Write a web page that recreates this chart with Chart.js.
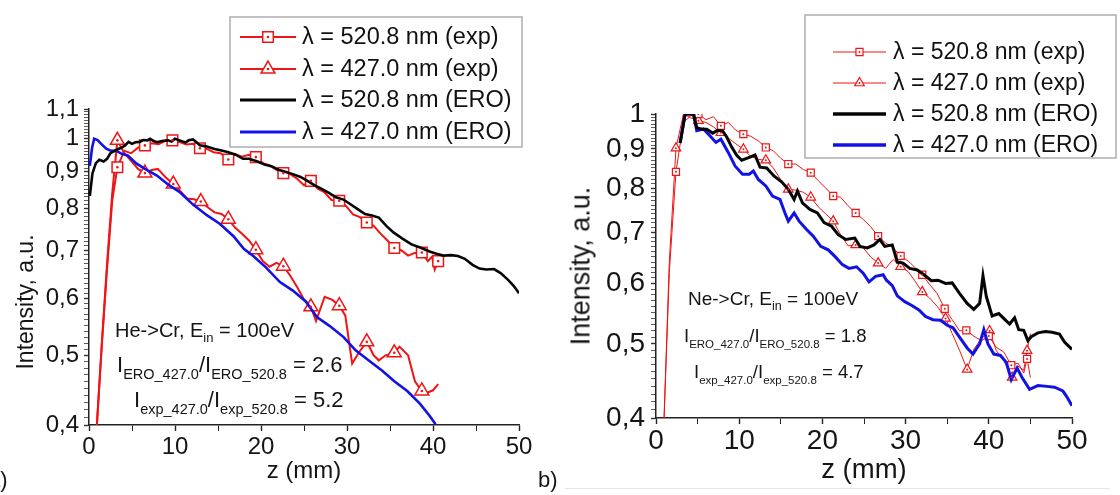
<!DOCTYPE html>
<html><head><meta charset="utf-8">
<script src="https://cdn.jsdelivr.net/npm/chart.js@4/dist/chart.umd.min.js"></script>
<style>
html,body{margin:0;padding:0;background:#fff;}
#wrap{position:relative;width:1120px;height:495px;overflow:hidden;font-family:"Liberation Sans",Arial,sans-serif;color:#151515;background:#fff;}
canvas{position:absolute;top:0;}
.t{position:absolute;white-space:nowrap;line-height:1;}
.sL{font-size:14.5px;vertical-align:-7px;}
.sR{font-size:11.5px;vertical-align:-6px;}
</style></head><body>
<div id="wrap">
<canvas id="cA" style="left:0;width:560px;height:495px" width="560" height="495"></canvas>
<canvas id="cB" style="left:560px;width:560px;height:495px" width="560" height="495"></canvas>

<div class="t" style="left:25px;top:302px;font-size:23px;transform:translate(-50%,-50%) rotate(-90deg)">Intensity, a.u.</div>
<div class="t" style="left:304px;top:458px;font-size:24px;transform:translateX(-50%)">z (mm)</div>
<div class="t" style="left:115px;top:320px;font-size:20px">He-&gt;Cr, E<span style="font-size:13px;vertical-align:-5px">in</span> = 100eV</div>
<div class="t" style="left:117px;top:354px;font-size:22px">I<span class="sL">ERO_427.0</span>/I<span class="sL">ERO_520.8</span> = 2.6</div>
<div class="t" style="left:134px;top:389px;font-size:22px">I<span class="sL">exp_427.0</span>/I<span class="sL">exp_520.8</span> = 5.2</div>
<div class="t" style="left:-12px;top:469px;font-size:22px">a)</div>

<div class="t" style="left:581px;top:266px;font-size:27px;transform:translate(-50%,-50%) rotate(-90deg)">Intensity, a.u.</div>
<div class="t" style="left:864px;top:455px;font-size:27.5px;transform:translateX(-50%)">z (mm)</div>
<div class="t" style="left:688px;top:289px;font-size:19px">Ne-&gt;Cr, E<span style="font-size:12.5px;vertical-align:-5px">in</span> = 100eV</div>
<div class="t" style="left:684px;top:327px;font-size:18.5px">I<span class="sR">ERO_427.0</span>/I<span class="sR">ERO_520.8</span> = 1.8</div>
<div class="t" style="left:694px;top:363px;font-size:18.5px">I<span class="sR">exp_427.0</span>/I<span class="sR">exp_520.8</span> = 4.7</div>
<div class="t" style="left:538px;top:469px;font-size:22px">b)</div>
<div style="position:absolute;left:565px;top:488px;width:545px;height:1px;background:#e6e6e6"></div>
</div>
<script>
// ---------- labels / ticks ----------
const seriesLabels = ['λ = 520.8 nm (exp)', 'λ = 427.0 nm (exp)', 'λ = 520.8 nm (ERO)', 'λ = 427.0 nm (ERO)'];
const xTickValues = [0, 5, 10, 15, 20, 25, 30, 35, 40, 45, 50];
const xTickLabels = [0, 10, 20, 30, 40, 50];
const yMajorValuesA = [0.4, 0.5, 0.6, 0.7, 0.8, 0.9, 1.0, 1.1];
const yMajorLabelsA = ['0,4', '0,5', '0,6', '0,7', '0,8', '0,9', '1', '1,1'];
const yMajorValuesB = [0.4, 0.5, 0.6, 0.7, 0.8, 0.9, 1.0];
const yMajorLabelsB = ['0,4', '0,5', '0,6', '0,7', '0,8', '0,9', '1'];

// ---------- panel a) He->Cr ----------
const heZexp520 = [0.8, 1.5, 2.1, 2.7, 3.3, 4.1, 4.9, 5.7, 6.5, 7.3, 8.1, 8.9, 9.7, 10.5, 11.3, 12.1, 12.9, 13.7, 14.5, 15.3, 16.2, 17.0, 17.8, 18.6, 19.4, 20.2, 21.0, 21.8, 22.6, 23.4, 24.2, 25.0, 25.8, 26.6, 27.4, 28.2, 29.1, 29.9, 30.7, 31.5, 32.3, 33.1, 33.9, 34.7, 35.5, 36.3, 37.1, 37.9, 38.7, 39.4, 39.9, 40.2, 40.6];
const heIexp520 = [0.38, 0.52, 0.66, 0.82, 0.913, 0.962, 0.955, 0.972, 0.979, 0.986, 0.983, 0.994, 0.995, 0.99, 0.982, 0.984, 0.970, 0.968, 0.958, 0.955, 0.936, 0.952, 0.944, 0.950, 0.943, 0.925, 0.918, 0.905, 0.896, 0.893, 0.880, 0.862, 0.874, 0.852, 0.842, 0.822, 0.820, 0.806, 0.785, 0.778, 0.765, 0.757, 0.738, 0.722, 0.705, 0.700, 0.688, 0.694, 0.695, 0.676, 0.686, 0.658, 0.676];
const heZexp427 = [0.8, 1.5, 2.1, 2.7, 3.3, 4.1, 4.9, 5.7, 6.5, 7.3, 8.0, 8.9, 9.8, 10.6, 11.4, 12.2, 13.0, 13.8, 14.6, 15.4, 16.2, 17.0, 17.8, 18.6, 19.4, 20.2, 21.0, 21.8, 22.6, 23.4, 24.2, 25.0, 25.8, 26.4, 27.4, 28.3, 29.1, 29.8, 30.6, 31.4, 32.3, 33.1, 33.7, 34.5, 35.5, 36.1, 37.1, 37.9, 38.7, 39.4, 40.0, 40.6];
const heIexp427 = [0.38, 0.52, 0.67, 0.84, 0.995, 0.955, 0.932, 0.908, 0.896, 0.905, 0.908, 0.884, 0.865, 0.846, 0.826, 0.824, 0.818, 0.803, 0.790, 0.786, 0.773, 0.752, 0.738, 0.722, 0.701, 0.676, 0.664, 0.672, 0.665, 0.645, 0.622, 0.598, 0.584, 0.558, 0.603, 0.597, 0.586, 0.568, 0.487, 0.505, 0.522, 0.500, 0.492, 0.500, 0.504, 0.514, 0.500, 0.460, 0.446, 0.444, 0.447, 0.456];
const heZero520 = [0.1, 0.4, 0.8, 1.2, 1.7, 2.1, 2.5, 3.0, 3.4, 3.8, 4.2, 4.6, 5.0, 5.4, 5.9, 6.3, 6.8, 7.1, 7.5, 7.9, 8.5, 9.2, 9.6, 10.0, 10.6, 11.2, 11.6, 12.1, 12.5, 12.9, 13.6, 14.6, 15.4, 16.2, 17.0, 17.9, 18.6, 19.6, 20.4, 21.2, 22.1, 22.9, 23.7, 24.6, 25.4, 26.2, 27.1, 27.9, 28.7, 29.6, 30.4, 31.2, 32.1, 32.9, 33.7, 34.6, 35.4, 36.4, 37.5, 38.5, 39.6, 40.4, 41.2, 42.1, 42.9, 43.7, 44.6, 45.4, 46.2, 47.1, 47.9, 48.7, 49.4, 50.0];
const heIero520 = [0.833, 0.895, 0.925, 0.935, 0.930, 0.938, 0.955, 0.963, 0.968, 0.972, 0.979, 0.990, 0.984, 0.989, 0.990, 0.996, 0.995, 1.0, 0.993, 0.989, 0.993, 0.995, 0.991, 1.0, 0.994, 0.988, 0.995, 0.998, 0.989, 0.979, 0.976, 0.968, 0.963, 0.958, 0.951, 0.938, 0.938, 0.930, 0.921, 0.916, 0.905, 0.899, 0.893, 0.885, 0.874, 0.862, 0.851, 0.841, 0.829, 0.823, 0.811, 0.799, 0.786, 0.782, 0.777, 0.756, 0.741, 0.727, 0.713, 0.706, 0.697, 0.692, 0.688, 0.689, 0.687, 0.681, 0.668, 0.660, 0.658, 0.659, 0.650, 0.637, 0.624, 0.610];
const heZero427 = [0.1, 0.35, 0.6, 1.0, 1.3, 2.0, 2.6, 3.2, 3.8, 4.5, 5.5, 6.5, 7.9, 9.3, 10.6, 12.1, 13.7, 15.2, 16.8, 18.0, 19.1, 20.6, 22.2, 23.7, 25.2, 26.5, 28.0, 29.6, 31.0, 32.5, 34.1, 35.5, 37.0, 38.5, 39.6, 40.3];
const heIero427 = [0.917, 0.97, 1.0, 0.996, 0.987, 0.969, 0.962, 0.962, 0.953, 0.948, 0.924, 0.908, 0.889, 0.862, 0.842, 0.810, 0.783, 0.762, 0.732, 0.703, 0.687, 0.662, 0.632, 0.615, 0.594, 0.565, 0.549, 0.530, 0.508, 0.492, 0.476, 0.460, 0.446, 0.428, 0.412, 0.401];

// ---------- panel b) Ne->Cr ----------
const neZexp520 = [0.9, 1.6, 2.4, 3.3, 4.2, 5.1, 6.0, 6.9, 7.8, 8.7, 9.6, 10.5, 11.4, 12.3, 13.2, 14.1, 15.0, 15.9, 16.8, 17.7, 18.6, 19.5, 20.4, 21.3, 22.2, 23.1, 24.0, 24.9, 25.8, 26.7, 27.6, 28.5, 29.4, 30.3, 31.1, 32.0, 32.9, 33.8, 34.7, 35.6, 36.5, 37.3, 38.2, 39.1, 40.0, 40.9, 41.8, 42.7, 43.5, 44.2, 44.6, 45.0];
const neIexp520 = [0.38, 0.62, 0.840, 0.975, 0.995, 1.0, 0.983, 0.992, 0.965, 0.975, 0.952, 0.941, 0.935, 0.922, 0.904, 0.895, 0.875, 0.860, 0.860, 0.846, 0.838, 0.818, 0.800, 0.781, 0.778, 0.758, 0.742, 0.728, 0.712, 0.692, 0.678, 0.668, 0.652, 0.642, 0.630, 0.616, 0.598, 0.582, 0.556, 0.538, 0.520, 0.521, 0.512, 0.505, 0.512, 0.495, 0.488, 0.469, 0.472, 0.458, 0.478, 0.452];
const neZexp427 = [0.9, 1.6, 2.4, 3.3, 4.2, 5.1, 6.0, 6.9, 7.8, 8.7, 9.6, 10.5, 11.4, 12.3, 13.2, 14.1, 15.0, 15.9, 16.8, 17.7, 18.6, 19.5, 20.4, 21.3, 22.2, 23.1, 24.0, 24.9, 25.8, 26.7, 27.6, 28.5, 29.4, 30.3, 31.1, 32.0, 32.9, 33.8, 34.8, 35.6, 36.5, 37.4, 38.2, 39.1, 40.1, 40.9, 41.8, 42.8, 43.5, 44.2, 44.6, 45.0];
const neIexp427 = [0.38, 0.64, 0.902, 1.0, 0.988, 0.980, 0.975, 0.962, 0.945, 0.930, 0.914, 0.899, 0.880, 0.872, 0.870, 0.850, 0.820, 0.797, 0.795, 0.790, 0.778, 0.756, 0.740, 0.724, 0.694, 0.672, 0.674, 0.668, 0.650, 0.638, 0.628, 0.645, 0.631, 0.622, 0.605, 0.585, 0.574, 0.560, 0.540, 0.516, 0.490, 0.463, 0.492, 0.508, 0.520, 0.490, 0.476, 0.452, 0.468, 0.462, 0.490, 0.516];
const neZero520 = [2.9, 3.5, 4.5, 4.9, 5.5, 6.1, 6.8, 7.4, 8.0, 8.5, 9.1, 9.7, 10.3, 11.3, 11.9, 12.5, 13.3, 14.2, 15.1, 15.9, 16.6, 17.0, 17.6, 18.5, 19.4, 20.2, 21.1, 21.9, 22.8, 23.9, 24.5, 25.4, 26.2, 26.9, 27.5, 28.4, 29.0, 29.7, 30.5, 31.4, 32.2, 33.1, 33.9, 34.8, 35.6, 36.5, 37.4, 38.2, 38.9, 39.3, 39.7, 40.4, 41.2, 42.1, 42.5, 43.1, 43.6, 44.2, 44.7, 45.1, 45.9, 46.8, 47.6, 48.5, 49.1, 50.0];
const neIero520 = [0.916, 1.0, 1.0, 0.960, 0.955, 0.955, 0.944, 0.952, 0.950, 0.933, 0.905, 0.883, 0.870, 0.878, 0.884, 0.852, 0.850, 0.829, 0.815, 0.797, 0.773, 0.793, 0.765, 0.750, 0.742, 0.721, 0.713, 0.695, 0.685, 0.688, 0.671, 0.668, 0.674, 0.685, 0.671, 0.674, 0.640, 0.638, 0.628, 0.625, 0.616, 0.605, 0.606, 0.600, 0.601, 0.582, 0.565, 0.555, 0.565, 0.614, 0.577, 0.544, 0.548, 0.536, 0.531, 0.541, 0.522, 0.521, 0.505, 0.511, 0.517, 0.519, 0.518, 0.515, 0.503, 0.492];
const neZero427 = [2.9, 3.5, 4.5, 4.9, 5.7, 6.5, 7.2, 7.8, 8.7, 9.5, 10.4, 11.2, 11.7, 12.3, 13.2, 14.0, 14.9, 15.5, 15.9, 16.6, 17.2, 18.1, 18.9, 19.8, 20.7, 21.5, 22.4, 23.2, 24.1, 24.9, 25.6, 26.4, 27.3, 27.7, 28.4, 29.0, 29.9, 30.7, 31.6, 32.4, 33.3, 34.2, 35.0, 35.7, 36.5, 37.4, 38.1, 38.9, 39.4, 39.9, 40.6, 41.4, 42.1, 42.7, 43.4, 44.0, 44.9, 45.9, 47.0, 47.9, 48.9, 49.4, 50.0];
const neIero427 = [0.916, 1.0, 1.0, 0.951, 0.956, 0.936, 0.918, 0.927, 0.890, 0.855, 0.834, 0.834, 0.842, 0.821, 0.805, 0.781, 0.773, 0.742, 0.724, 0.742, 0.724, 0.706, 0.692, 0.671, 0.664, 0.651, 0.635, 0.628, 0.631, 0.619, 0.603, 0.613, 0.616, 0.606, 0.596, 0.578, 0.568, 0.562, 0.554, 0.543, 0.538, 0.537, 0.529, 0.525, 0.510, 0.494, 0.485, 0.500, 0.522, 0.500, 0.485, 0.483, 0.473, 0.449, 0.465, 0.452, 0.436, 0.441, 0.440, 0.439, 0.434, 0.426, 0.415];

// ---------- helpers ----------
const FONT = "'Liberation Sans', Arial, sans-serif";
const RED = '#f01414', BLUE = '#1212e6', BLACK = '#050505';
const pts = (zs, vs) => zs.map((z, i) => ({x: z, y: vs[i]}));
const isMarker = (ds, i) => ds.markerEvery && i >= ds.markerStart && (i - ds.markerStart) % ds.markerEvery === 0;

const boxLegend = {
  id: 'boxLegend',
  afterDraw(chart, _a, o) {
    const ctx = chart.ctx;
    ctx.save();
    ctx.lineWidth = 1.4; ctx.strokeStyle = '#a8a8a8';
    ctx.strokeRect(o.box[0], o.box[1], o.box[2], o.box[3]);
    ctx.font = o.font; ctx.textBaseline = 'middle'; ctx.textAlign = 'left';
    o.order.forEach((di, k) => {
      const ds = chart.data.datasets[di];
      const y = o.rows[k];
      ctx.beginPath(); ctx.strokeStyle = ds.borderColor; ctx.lineWidth = ds.legendLineWidth;
      ctx.moveTo(o.line[0], y); ctx.lineTo(o.line[1], y); ctx.stroke();
      if (ds.markerEvery) {
        const cx = (o.line[0] + o.line[1]) / 2;
        ctx.fillStyle = '#fff'; ctx.strokeStyle = ds.borderColor; ctx.lineWidth = ds.pointBorderWidth;
        Chart.helpers.drawPoint(ctx, {pointStyle: ds.pointStyle, radius: ds.markerR, rotation: 0, borderWidth: ds.pointBorderWidth}, cx, y);
        ctx.fillStyle = ds.borderColor; ctx.beginPath(); ctx.arc(cx, y, ds.dotR, 0, Math.PI * 2); ctx.fill();
      }
      ctx.fillStyle = '#111';
      ctx.fillText(ds.label, o.textX, y + 1);
    });
    ctx.restore();
  }
};
const markerDots = {
  id: 'markerDots',
  afterDatasetsDraw(chart) {
    const ctx = chart.ctx;
    chart.data.datasets.forEach((ds, di) => {
      if (!ds.markerEvery) return;
      const meta = chart.getDatasetMeta(di);
      ctx.save();
      ctx.beginPath();
      ctx.rect(chart.chartArea.left, chart.chartArea.top, chart.chartArea.right - chart.chartArea.left, chart.chartArea.bottom - chart.chartArea.top);
      ctx.clip();
      ctx.fillStyle = ds.borderColor;
      meta.data.forEach((p, i) => {
        if (isMarker(ds, i)) { ctx.beginPath(); ctx.arc(p.x, p.y, ds.dotR, 0, Math.PI * 2); ctx.fill(); }
      });
      ctx.restore();
    });
  }
};

function expDataset(label, data, style, s) {
  return {
    label, data, borderColor: RED, backgroundColor: '#fff', borderWidth: s.lw, legendLineWidth: s.lw,
    pointStyle: style, markerR: style === 'rect' ? s.rr : s.tr, dotR: s.dot,
    markerStart: s.start, markerEvery: s.every,
    pointBorderColor: RED, pointBackgroundColor: '#fff', pointBorderWidth: s.pbw,
    pointRadius: c => isMarker(c.dataset, c.dataIndex) ? c.dataset.markerR : 0,
    pointHoverRadius: 0, tension: 0
  };
}
function eroDataset(label, data, color, lw, llw) {
  return { label, data, borderColor: color, borderWidth: lw, legendLineWidth: llw, pointRadius: 0, pointHoverRadius: 0, tension: 0 };
}

function makeChart(id, p) {
  const minorY = [];
  for (let k = 40; k <= Math.round(p.ymax * 100); k++) minorY.push(k / 100);
  return new Chart(document.getElementById(id), {
    type: 'line',
    data: { datasets: p.datasets },
    options: {
      responsive: false, animation: false, events: [], devicePixelRatio: 1,
      layout: { padding: { left: 0, top: p.top, right: p.right, bottom: 0 } },
      plugins: { legend: { display: false }, tooltip: { enabled: false }, boxLegend: p.legend },
      scales: {
        x: {
          type: 'linear', min: 0, max: 50,
          afterFit: s => { s.height = p.xH; },
          afterBuildTicks: s => { s.ticks = xTickValues.map(v => ({ value: v })); },
          ticks: { autoSkip: false, maxRotation: 0, padding: p.xPad, color: '#151515', font: { family: FONT, size: p.xFont },
                   callback: v => xTickLabels.includes(v) ? String(v) : '' },
          grid: { drawOnChartArea: false, drawTicks: true, tickLength: 6, tickColor: '#222',
                  tickWidth: c => (c.tick && xTickLabels.includes(c.tick.value)) ? 1.4 : 1 },
          border: { display: true, color: '#222', width: 1.5 }
        },
        y: {
          type: 'logarithmic', min: 0.4, max: p.ymax,
          afterFit: s => { s.width = p.yW; },
          afterBuildTicks: s => { s.ticks = minorY.map(v => ({ value: v })); },
          ticks: { autoSkip: false, padding: p.yPad, color: '#151515', font: { family: FONT, size: p.yFont },
                   callback: v => { const i = p.yMaj.findIndex(m => Math.abs(m - v) < 1e-6); return i >= 0 ? p.yLab[i] : ''; } },
          grid: { drawOnChartArea: false, drawTicks: true, tickLength: 5, tickColor: '#333',
                  tickWidth: c => (c.tick && p.yMaj.some(m => Math.abs(m - c.tick.value) < 1e-6)) ? 1.4 : 0.8 },
          border: { display: true, color: '#222', width: 1.5 }
        }
      }
    },
    plugins: [markerDots, boxLegend]
  });
}

const sA = { lw: 2, pbw: 1.5, rr: 7.5, tr: 8, dot: 1.3, start: 4, every: 4 };
makeChart('cA', {
  top: 109, right: 41, xH: 70, yW: 89, xPad: 2, yPad: 5, xFont: 24, yFont: 24, ymax: 1.1, yMaj: yMajorValuesA, yLab: yMajorLabelsA,
  datasets: [
    eroDataset(seriesLabels[2], pts(heZero520, heIero520), BLACK, 2.6, 3.2),
    eroDataset(seriesLabels[3], pts(heZero427, heIero427), BLUE, 2.6, 3.2),
    expDataset(seriesLabels[0], pts(heZexp520, heIexp520), 'rect', sA),
    expDataset(seriesLabels[1], pts(heZexp427, heIexp427), 'triangle', sA)
  ],
  legend: { box: [230, 17, 292, 130], rows: [37, 69, 100, 132], line: [240, 296], textX: 302, font: "23.5px " + FONT, order: [2, 3, 0, 1] }
});

const sB = { lw: 1, pbw: 1.2, rr: 5, tr: 5.5, dot: 1, start: 2, every: 3 };
makeChart('cB', {
  top: 114, right: 48, xH: 77, yW: 96, xPad: 0, yPad: 6, xFont: 28, yFont: 28, ymax: 1.0, yMaj: yMajorValuesB, yLab: yMajorLabelsB,
  datasets: [
    eroDataset(seriesLabels[2], pts(neZero520, neIero520), BLACK, 3, 3.5),
    eroDataset(seriesLabels[3], pts(neZero427, neIero427), BLUE, 3, 3.5),
    expDataset(seriesLabels[0], pts(neZexp520, neIexp520), 'rect', sB),
    expDataset(seriesLabels[1], pts(neZexp427, neIexp427), 'triangle', sB)
  ],
  legend: { box: [245, 15, 311, 143], rows: [52, 83, 114, 145], line: [273, 326], textX: 333, font: "23px " + FONT, order: [2, 3, 0, 1] }
});
</script>
</body></html>
